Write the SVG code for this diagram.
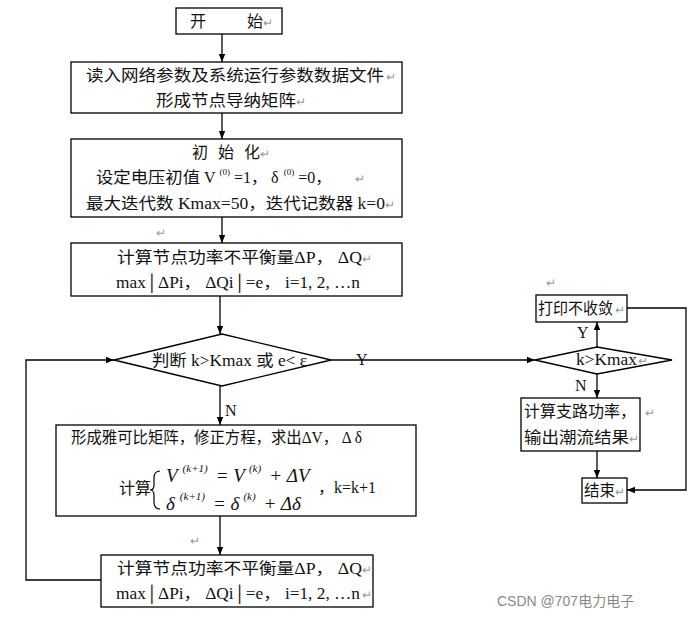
<svg xmlns="http://www.w3.org/2000/svg" width="698" height="619" viewBox="0 0 698 619">
<defs>
<marker id="ar" viewBox="0 0 10 10" refX="10" refY="5" markerWidth="8" markerHeight="8" orient="auto" markerUnits="userSpaceOnUse"><path d="M0,1 L10,5 L0,9 z" fill="#000"/></marker>
</defs>
<style>
.b{fill:#fff;stroke:#000;stroke-width:1.3}
text{font-family:"Liberation Serif","Noto Sans CJK SC",serif;font-size:16px;fill:#111}
.m{fill:#999;font-size:12px}
.i{font-style:italic;font-size:19px}
.s{font-size:11px;font-style:italic}
.c line,.c polyline{stroke:#000;stroke-width:1.3;fill:none}
.w{font-family:"Liberation Sans","Noto Sans CJK SC",sans-serif;fill:#888;font-size:14px}
</style>
<rect width="698" height="619" fill="#fff"/>
<g class="c">
<line x1="222" y1="34" x2="222" y2="62" marker-end="url(#ar)"/>
<line x1="222" y1="113" x2="222" y2="139" marker-end="url(#ar)"/>
<line x1="222" y1="217" x2="222" y2="243" marker-end="url(#ar)"/>
<line x1="220" y1="296" x2="220" y2="334" marker-end="url(#ar)"/>
<line x1="220" y1="386" x2="220" y2="425" marker-end="url(#ar)"/>
<line x1="220" y1="516" x2="220" y2="555" marker-end="url(#ar)"/>
<polyline points="101,580 26,580 26,360 114,360" marker-end="url(#ar)"/>
<line x1="331" y1="360" x2="535" y2="360" marker-end="url(#ar)"/>
<line x1="597" y1="347" x2="597" y2="322" marker-end="url(#ar)"/>
<line x1="597" y1="374" x2="597" y2="398" marker-end="url(#ar)"/>
<line x1="597" y1="451" x2="597" y2="478" marker-end="url(#ar)"/>
<polyline points="627,308 686,308 686,490 627,490" marker-end="url(#ar)"/>
<text x="356" y="365">Y</text>
<text x="225" y="416">N</text>
<text x="577" y="338">Y</text>
<text x="575" y="391">N</text>
</g>
<g id="start"><rect class="b" x="176" y="8" width="106" height="26"/><text x="190" y="27">开</text><text x="247" y="27">始</text><text class="m" x="263" y="27">↵</text></g>
<g id="read"><rect class="b" x="71" y="62" width="331" height="51"/><text x="86" y="81" textLength="298" lengthAdjust="spacingAndGlyphs">读入网络参数及系统运行参数数据文件</text><text class="m" x="386" y="81">↵</text><text x="156" y="106" textLength="140" lengthAdjust="spacingAndGlyphs">形成节点导纳矩阵</text><text class="m" x="296" y="106">↵</text></g>
<g id="init"><rect class="b" x="71" y="139" width="331" height="78"/><text x="192" y="158" textLength="68">初 始 化</text><text class="m" x="260" y="158">↵</text>
<text x="96" y="183"><tspan textLength="104" lengthAdjust="spacingAndGlyphs">设定电压初值</tspan><tspan> V</tspan><tspan font-size="9" dy="-8" dx="4">(0)</tspan><tspan dy="8" dx="4">=1，   δ</tspan><tspan font-size="9" dy="-8" dx="5">(0)</tspan><tspan dy="8" dx="4">=0，</tspan></text><text class="m" x="355" y="183">↵</text>
<text x="86" y="209" textLength="299" lengthAdjust="spacingAndGlyphs">最大迭代数 Kmax=50，迭代记数器 k=0</text><text class="m" x="385" y="209">↵</text></g>
<text class="m" x="156" y="237">↵</text>
<g id="calc1"><rect class="b" x="71" y="243" width="331" height="53"/><text x="117" y="263" textLength="245" lengthAdjust="spacingAndGlyphs">计算节点功率不平衡量ΔP， ΔQ</text><text class="m" x="362" y="263">↵</text><text x="116" y="288" textLength="244" lengthAdjust="spacingAndGlyphs">max│ΔPi， ΔQi│=e， i=1, 2, …n</text></g>
<g id="judge"><polygon class="b" points="114,360 222,334 331,360 222,386"/><text x="152" y="366" textLength="155" lengthAdjust="spacingAndGlyphs">判断 k&gt;Kmax  或 e&lt; ε</text></g>
<g id="jacobi"><rect class="b" x="56" y="425" width="360" height="91"/><text x="71" y="443" textLength="291" lengthAdjust="spacingAndGlyphs">形成雅可比矩阵，修正方程，求出ΔV， Δ δ</text><text x="119" y="494" textLength="32">计算</text><path d="M160,471 q-6,0 -6,7 v7 q0,5 -4,5 q4,0 4,5 v7 q0,7 6,7" fill="none" stroke="#000" stroke-width="1.2"/>
<text class="i" x="166" y="482">V<tspan class="s" dy="-10" dx="5">(k+1)</tspan><tspan dy="10" dx="8">= V</tspan><tspan class="s" dy="-10" dx="4">(k)</tspan><tspan dy="10" dx="8">+ ΔV</tspan></text>
<text class="i" x="166" y="510">δ<tspan class="s" dy="-10" dx="5">(k+1)</tspan><tspan dy="10" dx="8">= δ</tspan><tspan class="s" dy="-10" dx="4">(k)</tspan><tspan dy="10" dx="8">+ Δδ</tspan></text>
<text x="318" y="493">，k=k+1</text></g>
<text class="m" x="190" y="545">↵</text>
<g id="calc2"><rect class="b" x="101" y="555" width="272" height="52"/><text x="117" y="574" textLength="245" lengthAdjust="spacingAndGlyphs">计算节点功率不平衡量ΔP， ΔQ</text><text class="m" x="362" y="574">↵</text><text x="116" y="599" textLength="244" lengthAdjust="spacingAndGlyphs">max│ΔPi， ΔQi│=e， i=1, 2, …n</text><text class="m" x="362" y="599">↵</text></g>
<text class="m" x="546" y="287">↵</text>
<g id="print"><rect class="b" x="536" y="295" width="91" height="27"/><text x="538" y="314" textLength="75" lengthAdjust="spacingAndGlyphs">打印不收敛</text><text class="m" x="615" y="314">↵</text></g>
<g id="kmax"><polygon class="b" points="535,360 597,347 672,360 597,374"/><text x="576" y="365" textLength="61" lengthAdjust="spacingAndGlyphs">k&gt;Kmax</text><text class="m" x="638" y="365">↵</text></g>
<g id="branch"><rect class="b" x="521" y="398" width="119" height="53"/><text x="524" y="417" textLength="112" lengthAdjust="spacingAndGlyphs">计算支路功率，</text><text class="m" x="645" y="417">↵</text><text x="524" y="443" textLength="105" lengthAdjust="spacingAndGlyphs">输出潮流结果</text><text class="m" x="629" y="443">↵</text></g>
<g id="end"><rect class="b" x="582" y="478" width="45" height="25"/><text x="584" y="496" textLength="31" lengthAdjust="spacingAndGlyphs">结束</text><text class="m" x="615" y="496">↵</text></g>
<text class="w" x="497" y="606">CSDN @707电力电子</text>
</svg>
